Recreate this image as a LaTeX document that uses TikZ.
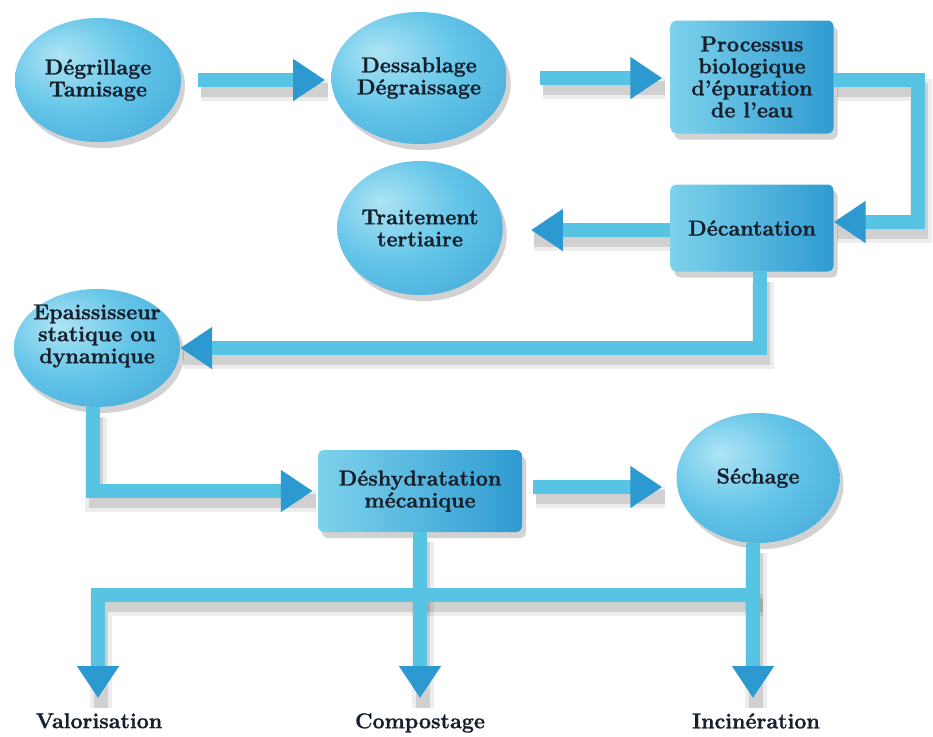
\documentclass[tikz,border=0pt]{standalone}
\usepackage{fontspec}
\setmainfont{Latin Modern Roman}[BoldFeatures={FakeBold=1.2}]
\usetikzlibrary{shapes.geometric,arrows.meta,shadows,backgrounds,calc}
\definecolor{pipec}{HTML}{58C4E3}
\definecolor{headc}{HTML}{2C9AD0}
\definecolor{txtc}{HTML}{16202C}
\definecolor{hlc}{HTML}{AEE4F5}
\definecolor{midc}{HTML}{64C5E8}
\definecolor{edgec}{HTML}{3AA2D6}
\definecolor{boxl}{HTML}{7DD2EC}
\definecolor{boxr}{HTML}{2F9BD1}
\pgfdeclareradialshading{bulle}{\pgfpoint{-12bp}{10bp}}{color(0bp)=(hlc); color(20bp)=(midc); color(46bp)=(edgec); color(80bp)=(edgec)}
\tikzset{
  lbl/.style={text=txtc, font=\bfseries\fontsize{21.5}{22}\selectfont, align=center, inner sep=0pt},
  bulle/.style={lbl, ellipse, shade, shading=bulle, draw=none,
    drop shadow={shadow xshift=4pt, shadow yshift=-6pt, opacity=0.25, fill=black!70}},
  boite/.style={lbl, rectangle, rounded corners=6pt, shade, left color=boxl, right color=boxr, draw=none,
    drop shadow={shadow xshift=4pt, shadow yshift=-6pt, opacity=0.25, fill=black!70}},
  pipe/.style={line width=14pt, draw=pipec, line join=miter},
  tip/.style={-{Triangle[width=40pt,length=32pt,color=headc]}},
  pshadowA/.style={line width=22pt, draw=black, draw opacity=0.07, line join=miter},
  pshadowB/.style={line width=14pt, draw=black, draw opacity=0.12, line join=miter},
}
\newcommand\tuyaux[2]{%
  \draw[#1,#2,shorten <=17pt,shorten >=6pt] (deg.east) -- (deg.east -| des.west);
  \draw[#1,#2,shorten <=33pt,shorten >=8pt] (des.east) -- (des.east -| proc.west);
  \draw[#1,#2] ([yshift=-3pt]proc.east) -- ++(84,0) |- ([yshift=6pt]dec.east);
  \draw[#1,#2,shorten >=28pt] ([yshift=-2pt]dec.west) -- ([yshift=-2pt]dec.west -| trait.east);
  \draw[#1,#2] ([xshift=8pt]dec.south) |- (epa.east);
  \draw[#1,#2,shorten >=5pt] ([xshift=-4pt]epa.south) |- (desh.west);
  \draw[#1,#2,shorten <=11pt,shorten >=14pt] ([yshift=4pt]desh.east) -- ([yshift=4pt]desh.east -| sech.west);
  \draw[#1,#2,shorten >=15pt] (desh.south) -- (desh.south |- comp.north);
  \draw[#1,#2,shorten >=15pt] ([xshift=-5pt]sech.south) -- ([xshift=-5pt]sech.south |- inc.north);
  \draw[#1,#2,shorten >=15pt] (barR) -- (barL) -- (barL |- val.north);
}
\begin{document}
\begin{tikzpicture}[x=1pt,y=-1pt]
\useasboundingbox (0,0) rectangle (933,736);
\node[bulle, minimum width=166pt, minimum height=124pt] (deg) at (98,80) {Dégrillage\\Tamisage};
\node[bulle, minimum width=162pt, minimum height=132pt] (des) at (419,78) {Dessablage\\Dégraissage};
\node[boite, minimum width=163pt, minimum height=113pt] (proc) at (752,77) {Processus\\biologique\\d'épuration\\de l'eau};
\node[bulle, minimum width=164pt, minimum height=134pt] (trait) at (420,228) {Traitement\\tertiaire};
\node[boite, minimum width=163pt, minimum height=87pt] (dec) at (752,228) {Décantation};
\node[bulle, minimum width=166pt, minimum height=118pt] (epa) at (97,348) {};
\node[lbl] (epat) at (97,336) {Epaississeur\\statique ou\\dynamique};
\node[boite, minimum width=204pt, minimum height=82pt] (desh) at (420,491) {Déshydratation\\mécanique};
\node[bulle, minimum width=163pt, minimum height=130pt] (sech) at (758,478) {Séchage};
\node[lbl, anchor=north] (val) at (99,713) {Valorisation};
\node[lbl, anchor=north] (comp) at (420,713) {Compostage};
\node[lbl, anchor=north] (inc) at (756,713) {Incinération};
\coordinate (barR) at (760,595);
\coordinate (barL) at (98,595);
\begin{scope}[on background layer]
  \fill[white] (0,0) rectangle (933,736);
  \begin{scope}[transform canvas={xshift=3pt, yshift=-10pt}]
    \tuyaux{pshadowA}{}
    \tuyaux{pshadowB}{}
  \end{scope}
\end{scope}
\tuyaux{pipe}{tip}
\end{tikzpicture}
\end{document}
